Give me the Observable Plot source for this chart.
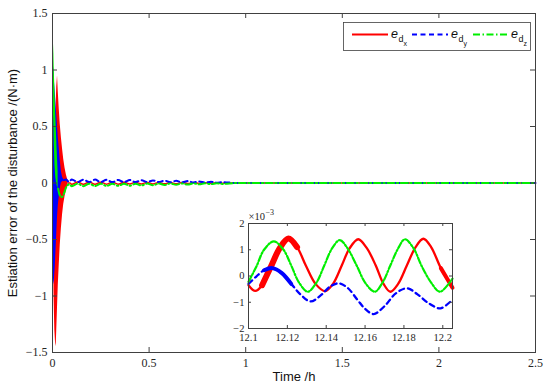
<!DOCTYPE html>
<html><head><meta charset="utf-8">
<script src="https://cdn.jsdelivr.net/npm/d3@7"></script>
<script src="https://cdn.jsdelivr.net/npm/@observablehq/plot@0.6"></script>
<style>
body{margin:0;background:#fff;}
#wrap{position:relative;width:550px;height:391px;overflow:hidden;}
#wrap svg{position:absolute;}
#wrap svg g[aria-label="x-axis tick label"] text,
#wrap svg g[aria-label="y-axis tick label"] text,
#wrap svg g[aria-label="x-axis tick label"],
#wrap svg g[aria-label="y-axis tick label"],
#wrap svg .serif{font-family:"Liberation Serif","DejaVu Serif",serif !important;}
</style></head><body><div id="wrap"></div>
<script>
// ---------- main axes ----------
const xTicks = [0, 0.5, 1, 1.5, 2, 2.5];
const yTicks = [-1.5, -1, -0.5, 0, 0.5, 1, 1.5];

// envelopes of the dense initial oscillation (N·m)
const redEnvT  = [0.004,0.008,0.012,0.016,0.019,0.022,0.026,0.030,0.035,0.040,0.046,0.052,0.058,0.065,0.072,0.080];
const redEnvHi = [-0.1,-0.15,0.1,0.45,0.7,0.85,0.95,0.8,0.65,0.52,0.4,0.3,0.21,0.13,0.07,0.02];
const redEnvLo = [-0.3,-1.0,-1.3,-1.42,-1.45,-1.3,-1.1,-0.9,-0.72,-0.55,-0.4,-0.28,-0.19,-0.12,-0.06,-0.02];

const blueEnvT  = [0.0,0.002,0.004,0.007,0.010,0.014,0.018,0.022,0.026,0.030,0.035,0.040,0.046,0.052,0.058];
const blueEnvHi = [-0.1,0.6,1.05,1.0,0.9,0.8,0.7,0.6,0.5,0.4,0.3,0.2,0.1,0.05,0.03];
const blueEnvLo = [-0.2,-0.5,-0.85,-0.9,-0.85,-0.75,-0.6,-0.45,-0.3,-0.2,-0.12,-0.05,0.0,0.01,0.02];

const greenEnvT  = [0.0,0.003,0.006,0.009,0.013,0.017,0.021,0.025,0.029];
const greenEnvHi = [0.0,0.9,1.23,1.0,0.8,0.6,0.42,0.25,0.1];
const greenEnvLo = [0.0,0.3,0.6,0.35,0.15,0.05,0.0,-0.03,-0.05];

// after the transient: small ripple then flat
const redT = [0.080,0.090,0.10,0.13,0.16,0.19,0.22,0.25,0.28,0.31,0.34,0.37,0.40,0.43,0.46,0.49,0.52,0.55,0.58,0.61,0.64,0.67,0.70,0.73,0.76,0.79,0.82,0.85,0.88,0.95,2.5];
const redV = [0.0,0.0,-0.012,0.008,-0.012,0.008,-0.011,0.007,-0.01,0.007,-0.01,0.006,-0.009,0.006,-0.008,0.005,-0.008,0.005,-0.007,0.004,-0.006,0.004,-0.005,0.003,-0.004,0.002,-0.003,0.002,-0.002,0,0];

const blueT = [0.058,0.070,0.085,0.10,0.13,0.16,0.19,0.22,0.25,0.28,0.31,0.34,0.37,0.40,0.43,0.46,0.49,0.52,0.55,0.58,0.61,0.64,0.67,0.70,0.73,0.76,0.79,0.82,0.85,0.88,0.95,2.5];
const blueV = [0.025,0.03,0.01,0.032,0.008,0.03,0.008,0.03,0.008,0.028,0.008,0.027,0.008,0.026,0.008,0.025,0.008,0.023,0.008,0.021,0.007,0.019,0.006,0.017,0.005,0.014,0.004,0.011,0.003,0.008,0,0];

const greenT = [0.029,0.034,0.040,0.046,0.052,0.058,0.064,0.070,0.078,0.086,0.10,0.13,0.16,0.19,0.22,0.25,0.28,0.31,0.34,0.37,0.40,0.43,0.46,0.49,0.52,0.55,0.58,0.61,0.64,0.67,0.70,0.73,0.76,0.79,0.82,0.85,0.88,0.95,2.5];
const greenV = [-0.05,-0.09,-0.115,-0.125,-0.12,-0.1,-0.07,-0.04,-0.02,-0.01,-0.028,-0.006,-0.028,-0.006,-0.027,-0.006,-0.026,-0.006,-0.025,-0.006,-0.024,-0.006,-0.022,-0.005,-0.02,-0.005,-0.018,-0.004,-0.016,-0.004,-0.014,-0.003,-0.012,-0.003,-0.01,-0.002,-0.008,0,0];

// ---------- inset (×10^-3) ----------
const insetXTicks = [12.1, 12.12, 12.14, 12.16, 12.18, 12.2];
const insetYTicks = [-2, -1, 0, 1, 2];

const insetRedT = [12.100,12.1035,12.107,12.1115,12.116,12.1205,12.125,12.1295,12.1345,12.1395,12.1435,12.148,12.152,12.1565,12.161,12.1655,12.1695,12.173,12.177,12.1815,12.186,12.190,12.194,12.199,12.205];
const insetRedV = [-0.35,-0.57,-0.35,0.35,1.05,1.43,1.1,0.4,-0.3,-0.58,-0.3,0.4,1.05,1.4,1.05,0.4,-0.3,-0.6,-0.3,0.4,1.1,1.42,1.1,0.3,-0.45];

const insetGreenT = [12.100,12.104,12.108,12.113,12.118,12.122,12.126,12.1305,12.135,12.139,12.143,12.147,12.151,12.156,12.160,12.165,12.169,12.173,12.177,12.1805,12.185,12.189,12.194,12.1985,12.205];
const insetGreenV = [-0.22,0.35,1.0,1.32,1.0,0.4,-0.25,-0.6,-0.25,0.4,1.05,1.37,1.05,0.35,-0.25,-0.6,-0.25,0.4,1.05,1.4,1.05,0.4,-0.25,-0.6,-0.1];

const insetBlueT = [12.100,12.104,12.108,12.1123,12.117,12.122,12.127,12.132,12.137,12.142,12.1464,12.151,12.156,12.160,12.1644,12.170,12.176,12.1817,12.187,12.193,12.1988,12.205];
const insetBlueV = [-0.3,-0.02,0.22,0.3,0.12,-0.3,-0.72,-0.97,-0.75,-0.4,-0.28,-0.45,-0.9,-1.25,-1.45,-1.15,-0.65,-0.47,-0.7,-1.05,-1.23,-0.9];

// ---------- tables ----------
const env = (T, H, L) => T.map((t, i) => ({t, hi: H[i], lo: L[i]}));
const ser = (T, V) => T.map((t, i) => ({t, v: V[i]}));
const redEnv = env(redEnvT, redEnvHi, redEnvLo);
const blueEnv = env(blueEnvT, blueEnvHi, blueEnvLo);
const greenEnv = env(greenEnvT, greenEnvHi, greenEnvLo);
const redLine = ser(redT, redV), blueLine = ser(blueT, blueV), greenLine = ser(greenT, greenV);
const iRed = ser(insetRedT, insetRedV), iBlue = ser(insetBlueT, insetBlueV), iGreen = ser(insetGreenT, insetGreenV);

const fmt = d3.format("");
const RED = "#ff0000", BLUE = "#0000ff", GREEN = "#00ee00";
const DASH = "5,3.5", DASHDOT = "7,2.5,1.5,2.5";
const AX = "#404040";
const SERIF = "Liberation Serif", SANS = "Liberation Sans";

const W = 550, H = 391, ML = 52, MR = 15, MT = 13, MB = 39;
const PW = W - ML - MR, PH = H - MT - MB, TK = 5;

const main = Plot.plot({
  width: W, height: H, marginLeft: ML, marginRight: MR, marginTop: MT, marginBottom: MB,
  style: {fontFamily: SERIF, fontSize: "12px", background: "transparent", color: "#262626"},
  x: {domain: [0, 2.5], label: null},
  y: {domain: [-1.5, 1.5], label: null},
  marks: [
    Plot.areaY(redEnv, {x: "t", y1: "lo", y2: "hi", fill: RED}),
    Plot.lineY(redLine, {x: "t", y: "v", stroke: RED, strokeWidth: 1.5, curve: "monotone-x"}),
    Plot.areaY(blueEnv, {x: "t", y1: "lo", y2: "hi", fill: BLUE}),
    Plot.lineY(blueLine, {x: "t", y: "v", stroke: BLUE, strokeWidth: 2, strokeDasharray: DASH, curve: "monotone-x"}),
    Plot.areaY(greenEnv, {x: "t", y1: "lo", y2: "hi", fill: GREEN}),
    Plot.lineY(greenLine, {x: "t", y: "v", stroke: GREEN, strokeWidth: 2, strokeDasharray: DASHDOT, curve: "monotone-x"}),
    Plot.tickX(xTicks, {x: d => d, stroke: AX, insetTop: PH - TK}),
    Plot.tickX(xTicks, {x: d => d, stroke: AX, insetBottom: PH - TK}),
    Plot.tickY(yTicks, {y: d => d, stroke: AX, insetRight: PW - TK}),
    Plot.tickY(yTicks, {y: d => d, stroke: AX, insetLeft: PW - TK}),
    Plot.axisX(xTicks, {tickSize: 0, tickPadding: 6, tickFormat: fmt, label: null, fontFamily: SERIF, fontSize: 12, fill: "#262626"}),
    Plot.axisY(yTicks, {tickSize: 0, tickPadding: 5, tickFormat: fmt, label: null, fontFamily: SERIF, fontSize: 12, fill: "#262626"}),
    Plot.frame({stroke: AX, strokeWidth: 1}),
    Plot.text(["Time /h"], {text: d => d, frameAnchor: "bottom", dy: 28, textAnchor: "middle", fontFamily: SANS, fontSize: 13, fill: "#111"}),
    Plot.text(["Estiation error of the disturbance /(N·m)"], {text: d => d, frameAnchor: "left", dx: -40, textAnchor: "middle", rotate: -90, fontFamily: SANS, fontSize: 13, fill: "#111"})
  ]
});
main.style.left = "0px"; main.style.top = "0px";
document.getElementById("wrap").appendChild(main);

// ---------- inset ----------
const IL = 218, IT = 205, IW = 245, IH = 140, iML = 30, iMR = 11, iMT = 18, iMB = 17;
const iPW = IW - iML - iMR, iPH = IH - iMT - iMB, iTK = 3;
const inset = Plot.plot({
  width: IW, height: IH, marginLeft: iML, marginRight: iMR, marginTop: iMT, marginBottom: iMB,
  style: {fontFamily: SERIF, fontSize: "10.5px", background: "transparent", color: "#262626", overflow: "visible"},
  x: {domain: [12.1, 12.205], label: null},
  y: {domain: [-2, 2], label: null},
  marks: [
    Plot.frame({fill: "white"}),
    Plot.lineY(iRed, {x: "t", y: "v", stroke: RED, strokeWidth: 2.3, curve: "catmull-rom"}),
    Plot.lineY(iRed, {x: "t", y: "v", filter: d => d.t >= 12.106 && d.t <= 12.126, stroke: RED, strokeWidth: 6, curve: "catmull-rom"}),
    Plot.lineY(iRed, {x: "t", y: "v", filter: d => d.t >= 12.199, stroke: RED, strokeWidth: 4, curve: "catmull-rom"}),
    Plot.lineY(iBlue, {x: "t", y: "v", stroke: BLUE, strokeWidth: 2.3, strokeDasharray: "5,4", curve: "catmull-rom"}),
    Plot.lineY(iBlue, {x: "t", y: "v", filter: d => d.t >= 12.107 && d.t <= 12.123, stroke: BLUE, strokeWidth: 4, curve: "catmull-rom"}),
    Plot.lineY(iGreen, {x: "t", y: "v", stroke: GREEN, strokeWidth: 2.2, strokeDasharray: "6,2,1.5,2", curve: "catmull-rom"}),
    Plot.tickX(insetXTicks, {x: d => d, stroke: AX, insetTop: iPH - iTK}),
    Plot.tickX(insetXTicks, {x: d => d, stroke: AX, insetBottom: iPH - iTK}),
    Plot.tickY(insetYTicks, {y: d => d, stroke: AX, insetRight: iPW - iTK}),
    Plot.tickY(insetYTicks, {y: d => d, stroke: AX, insetLeft: iPW - iTK}),
    Plot.axisX(insetXTicks, {tickSize: 0, tickPadding: 5, tickFormat: fmt, label: null, fontFamily: SERIF, fontSize: 10.5, fill: "#262626"}),
    Plot.axisY(insetYTicks, {tickSize: 0, tickPadding: 4, tickFormat: fmt, label: null, fontFamily: SERIF, fontSize: 10.5, fill: "#262626"}),
    Plot.frame({stroke: AX, strokeWidth: 1}),
    Plot.text(["×10"], {text: d => d, frameAnchor: "top-left", dy: -4, dx: 0, textAnchor: "start", lineAnchor: "bottom", fontFamily: SERIF, fontSize: 10.5, fill: "#262626", className: "serif"}),
    Plot.text(["−3"], {text: d => d, frameAnchor: "top-left", dy: -9, dx: 17, textAnchor: "start", lineAnchor: "bottom", fontFamily: SERIF, fontSize: 8, fill: "#262626", className: "serif"})
  ]
});
inset.style.left = IL + "px"; inset.style.top = IT + "px";
document.getElementById("wrap").appendChild(inset);

// ---------- legend ----------
const legendItems = [
  {name: "x", color: RED, dash: null, x0: 352, x1: 388, tx: 391},
  {name: "y", color: BLUE, dash: DASH, x0: 412, x1: 448, tx: 451},
  {name: "z", color: GREEN, dash: DASHDOT, x0: 473, x1: 508, tx: 511}
];
const lg = d3.create("svg").attr("width", W).attr("height", H).style("left", "0px").style("top", "0px");
lg.append("rect").attr("x", 343.5).attr("y", 22.5).attr("width", 187).attr("height", 28)
  .attr("fill", "white").attr("stroke", AX).attr("stroke-width", 0.8);
for (const it of legendItems) {
  lg.append("line").attr("x1", it.x0).attr("x2", it.x1).attr("y1", 34.5).attr("y2", 34.5)
    .attr("stroke", it.color).attr("stroke-width", 2).attr("stroke-dasharray", it.dash);
  const t = lg.append("text").attr("x", it.tx).attr("y", 37.5)
    .attr("font-family", SANS).attr("font-size", 12.5).attr("fill", "#111");
  t.append("tspan").attr("font-style", "italic").text("e");
  t.append("tspan").attr("font-size", 9).attr("dy", 4.5).attr("dx", 0.5).text("d");
  t.append("tspan").attr("font-size", 7).attr("dy", 3.5).text(it.name);
}
document.getElementById("wrap").appendChild(lg.node());
</script>
</body></html>
